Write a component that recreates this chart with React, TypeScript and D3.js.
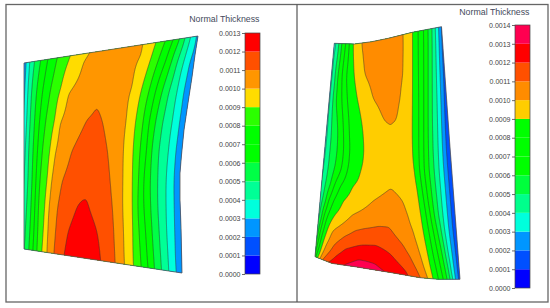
import * as d3 from 'd3';
import { useEffect, useRef } from 'react';

// Thickness is in units of 0.0001 in the station tables below.
// Each station row: x where the thickness climbs through successive levels,
// the crest of that row (x, thickness pairs), then x where it falls back through the levels.
const leftStations = [30, 60, 90, 120, 150, 180, 205, 230, 255, 285];
const leftRise = [
  [28, 32, 38, 45, 52, 63, 76, 96],
  [26.5, 29, 34, 40, 47, 56, 69, 83],
  [25, 27, 31, 36, 42, 49.5, 60, 67.5],
  [23.5, 26, 29.5, 34, 39, 45, 54.5, 59, 86],
  [22, 24.5, 28, 32.5, 37, 41.5, 49.5, 54.5, 71],
  [21, 23, 27.5, 31.5, 35.5, 39, 47, 50.5, 61],
  [20, 22.5, 26, 30.5, 34.5, 37.5, 44.5, 48, 56.7, 77],
  [19, 21.5, 24.5, 29.5, 33.5, 37, 43, 47, 55, 67],
  [18, 20.5, 23, 28, 32, 36, 41, 46, 53, 62.5],
  [17, 20, 22, 27, 31, 35.5, 40, 45, 52, 60],
];
const leftCrest = [[123, 10.5], [112, 10.6], [97, 10.75], [96, 11.2], [88, 11.55], [86, 11.9], [82, 12.05], [82, 12.6], [82, 12.85], [82, 12.9]];
const leftFall = [
  [150, 160, 170, 177, 182, 187, 192, 197, 203],
  [141, 150, 158, 165.5, 171, 176.5, 183, 189, 199],
  [132, 140.5, 148.5, 155, 161.5, 168, 176.5, 183, 192],
  [102.5, 126.4, 135, 142.6, 148.7, 155, 162, 172, 179, 189],
  [107.5, 123, 132.6, 139.5, 146, 151, 158, 168, 175, 185],
  [110, 122.5, 132, 138, 143, 149.5, 157, 165.5, 173, 184],
  [87, 112.2, 122, 132, 137, 143, 150, 157, 165.5, 173.5, 184],
  [97, 113.5, 123, 132.5, 138.5, 145, 151.5, 158.5, 166, 174, 185],
  [100, 114.5, 123.5, 132.5, 140, 146.5, 153, 160, 167.5, 174.5, 186],
  [103, 116, 125, 134, 142, 149, 155, 162, 169, 176, 187],
];
const leftOutline = [[24, 63], [198, 36], [195, 55], [192, 77], [188, 103], [184, 130], [181.5, 155], [180, 173], [180, 200], [181, 227], [182, 273], [24, 249]];

const rightStations = [20, 45, 75, 100, 115, 130, 150, 170, 185, 200, 215, 230, 245, 255, 270, 290];
const rightRise = [
  [338, 340, 344, 348, 351, 353, 360],
  [336, 338, 341, 345, 348.5, 352.3, 360.5],
  [332.5, 334.5, 337, 341.5, 345.5, 353.5, 363.5],
  [330, 332, 335.2, 341.3, 346.5, 357, 372.5],
  [328.5, 331, 336.5, 342.3, 347.7, 360, 381],
  [327.5, 330.5, 337.5, 343, 348.3, 362],
  [325.5, 329, 336.8, 343.3, 349, 363],
  [323, 327, 334, 341, 347, 360],
  [320.5, 324.5, 330, 333.6, 339.7, 352],
  [318, 322, 325.7, 327.7, 332.8, 342.6, 373],
  [316, 319.3, 321.5, 323, 327, 334.2, 351.7],
  [314.5, 316.5, 318, 319.3, 323, 326.5, 331.7, 355],
  [313, 314, 315, 316, 319.3, 321.7, 325, 333.5],
  [311, 312, 313, 314, 316, 318.9, 320.8, 326.5, 336],
  [305, 306, 307, 308, 309.5, 311, 313, 315.5, 318, 322],
  [298.5, 299, 299.5, 300.5, 301.5, 303, 305, 307, 310, 315],
];
const rightCrest = [
  [382, 10.6],
  [382, 10.6],
  [383, 10.5],
  [387, 10.35],
  [385, 10.2, 395, 10.2],
  [390, 9.9],
  [388, 9.6],
  [388, 9.55],
  [390, 9.9],
  [392, 10.4],
  [388, 10.8],
  [364, 11.1, 378, 11.15],
  [345, 11.75, 362, 12, 375, 11.98, 390, 11.6],
  [345, 12.5, 358, 12.8, 375, 12.7],
  [358, 13.6],
  [358, 13.9],
];
const rightFall = [
  [403, 412.3, 417.5, 423, 427.5, 431.5, 434.5, 438, 440.5, 444],
  [403.5, 412.3, 417.7, 423.3, 427.7, 431.7, 435.3, 438.7, 441.5, 445],
  [403, 412.3, 418, 423.3, 427.7, 431.7, 436, 439.6, 442.8, 448],
  [400, 412.3, 418.3, 423.3, 427.7, 431.7, 436.7, 440.5, 443.5, 449],
  [397, 412.3, 418.3, 423.3, 427.7, 431.7, 437, 441, 444, 450],
  [412.5, 418.3, 423.3, 427.7, 432, 437.3, 441.5, 444.5, 451],
  [413, 418.3, 423.3, 428, 432.5, 437.8, 442.3, 445.5, 452],
  [415, 418.8, 423.7, 428.6, 433.6, 438.6, 443.5, 447, 454],
  [417, 421, 425.5, 430.3, 435, 439.8, 444.8, 448.2, 455],
  [402.7, 418.9, 423.3, 427.4, 431.9, 436.6, 441, 446, 449.5, 456],
  [407.7, 420.9, 425.8, 429.9, 433.7, 438, 442.3, 447.3, 450.7, 457],
  [390, 412.6, 422.9, 428.3, 432.8, 436.9, 440.7, 443.8, 448.7, 452, 458],
  [403, 417, 425.7, 430.9, 435.7, 440, 443.5, 446.2, 450.6, 453.8, 459.5],
  [391, 408.7, 419.9, 427.6, 432.8, 437.7, 442, 445.3, 447.8, 451.9, 455, 460],
  [386, 405.5, 416.4, 424.2, 430.6, 436.3, 440.8, 445, 448.3, 450.2, 453.8, 456.7, 461],
  [400, 418, 426, 430, 434.5, 441, 445, 449, 452, 453.5, 456.4, 459, 464],
];
const rightOutline = [[334.3, 43.3], [354.3, 44], [371.7, 41.7], [388.3, 38.3], [412.3, 32.3], [441.5, 26.7], [449.7, 143], [460, 279.3], [438.3, 279.3], [420, 277.7], [391.7, 272.7], [355, 266.7], [338, 264.3], [331.7, 263.3], [315, 256.7]];

// Legend colours, lowest band first
const leftColors = ['#0000ff', '#0050ff', '#0096ff', '#00ffdc', '#00ff96', '#00ff46', '#00ff00', '#00ff00', '#2bff00', '#ffdc00', '#ff9600', '#ff5000', '#ff0000'];
const rightColors = ['#0000ff', '#0050ff', '#0096ff', '#00ffdc', '#00ff8c', '#00ff3c', '#00ff00', '#00ff00', '#00ff00', '#ffcd00', '#ff8c00', '#ff5000', '#ff0000', '#ff0050'];

const mesh = d3.scaleLinear().domain([0, 550]).range([0, 550]);

function buildField(stations, rise, crest, fall, riseLow, fallLow, w, h, smooth) {
  const rows = stations.map((_, i) => {
    const r = rise[i], f = fall[i];
    const cx = crest[i].filter((_, k) => k % 2 === 0);
    const ct = crest[i].filter((_, k) => k % 2 === 1);
    const xs = [r[0] - 8, ...r, ...cx, ...f, f[f.length - 1] + 8];
    const ts = [riseLow - 1, ...r.map((_, k) => riseLow + k), ...ct, ...f.map((_, k) => fallLow + f.length - 1 - k), fallLow - 1];
    return d3.scaleLinear().domain(xs).range(ts).clamp(true);
  });
  const values = new Float64Array(w * h);
  for (let y = 0; y < h; y++) {
    const hi = Math.min(Math.max(d3.bisectRight(stations, y), 1), stations.length - 1);
    const lo = hi - 1;
    const f = Math.max(0, Math.min(1, (y - stations[lo]) / (stations[hi] - stations[lo])));
    for (let x = 0; x < w; x++) {
      values[y * w + x] = rows[lo](x) * (1 - f) + rows[hi](x) * f;
    }
  }
  // stations are sparse, so round off the kinks between them
  d3.blur2({ data: values, width: w, height: h }, 0.6, smooth);
  return values;
}

function drawPanel(svg, id, stations, rise, crest, fall, riseLow, fallLow, outline, colors, smooth) {
  const w = 550, h = 308;
  const values = buildField(stations, rise, crest, fall, riseLow, fallLow, w, h, smooth);
  const levels = d3.range(1, colors.length);
  const bands = d3.contours().size([w, h]).thresholds(levels)(values);
  const path = d3.geoPath(d3.geoIdentity().scale(1));
  const line = d3.line().x(d => mesh(d[0])).y(d => mesh(d[1]));

  svg.append('clipPath').attr('id', id).append('path').attr('d', line(outline) + 'Z');
  const g = svg.append('g').attr('clip-path', `url(#${id})`);
  g.append('path').attr('d', line(outline) + 'Z').attr('fill', colors[0]);
  g.selectAll('path.band')
    .data(bands)
    .enter()
    .append('path')
    .attr('class', 'band')
    .attr('d', d => path(d))
    .attr('fill', d => colors[d.value])
    .attr('stroke', '#333')
    .attr('stroke-width', 0.5);
  svg.append('path')
    .attr('d', line(outline) + 'Z')
    .attr('fill', 'none')
    .attr('stroke', '#555')
    .attr('stroke-width', 0.8);
}

function drawLegend(svg, colors, x, top, bottom, titleX, titleY) {
  const barW = 15;
  const y = d3.scaleLinear().domain([0, colors.length * 0.0001]).range([bottom, top]);
  svg.append('g')
    .selectAll('rect')
    .data(colors)
    .enter()
    .append('rect')
    .attr('x', x)
    .attr('y', (_, i) => y((i + 1) * 0.0001))
    .attr('width', barW)
    .attr('height', (_, i) => y(i * 0.0001) - y((i + 1) * 0.0001))
    .attr('fill', d => d);
  svg.append('rect')
    .attr('x', x).attr('y', top)
    .attr('width', barW).attr('height', bottom - top)
    .attr('fill', 'none').attr('stroke', '#444').attr('stroke-width', 0.7);
  const axis = svg.append('g')
    .attr('transform', `translate(${x},0)`)
    .call(d3.axisLeft(y)
      .tickValues(d3.range(colors.length + 1).map(i => i * 0.0001))
      .tickFormat(d3.format('.4f'))
      .tickSize(3)
      .tickPadding(1.5));
  axis.select('.domain').remove();
  axis.selectAll('line').attr('stroke', '#444').attr('stroke-width', 0.8);
  axis.selectAll('text')
    .attr('font-family', '"Liberation Sans", Arial, sans-serif')
    .attr('font-size', 7)
    .attr('fill', '#444');
  svg.append('text')
    .attr('x', titleX).attr('y', titleY)
    .attr('text-anchor', 'end')
    .attr('font-family', '"Liberation Sans", Arial, sans-serif')
    .attr('font-size', 8.8)
    .attr('fill', '#444a5c')
    .text('Normal Thickness');
}

export default function App() {
  const ref = useRef<SVGSVGElement>(null);

  useEffect(() => {
    const svg = d3.select(ref.current);
    svg.selectAll('*').remove();

    svg.append('rect').attr('width', 550).attr('height', 308).attr('fill', '#fff');

    // Frame around both panels
    svg.append('rect')
      .attr('x', 6).attr('y', 4.5).attr('width', 542).attr('height', 297.5)
      .attr('fill', 'none').attr('stroke', '#666').attr('stroke-width', 1.3);
    svg.append('line')
      .attr('x1', 297).attr('x2', 297).attr('y1', 4.5).attr('y2', 302)
      .attr('stroke', '#555').attr('stroke-width', 1.2);

    drawPanel(svg, 'blade-left', leftStations, leftRise, leftCrest, leftFall, 3, 2, leftOutline, leftColors, 9);
    drawPanel(svg, 'blade-right', rightStations, rightRise, rightCrest, rightFall, 4, 1, rightOutline, rightColors, 5);

    drawLegend(svg, leftColors, 245, 33, 274, 259.5, 22);
    drawLegend(svg, rightColors, 515, 25, 288, 529.5, 15);
  }, []);

  return <svg ref={ref} width={550} height={308} style={{ position: 'absolute', left: 0, top: 0 }} />;
}
